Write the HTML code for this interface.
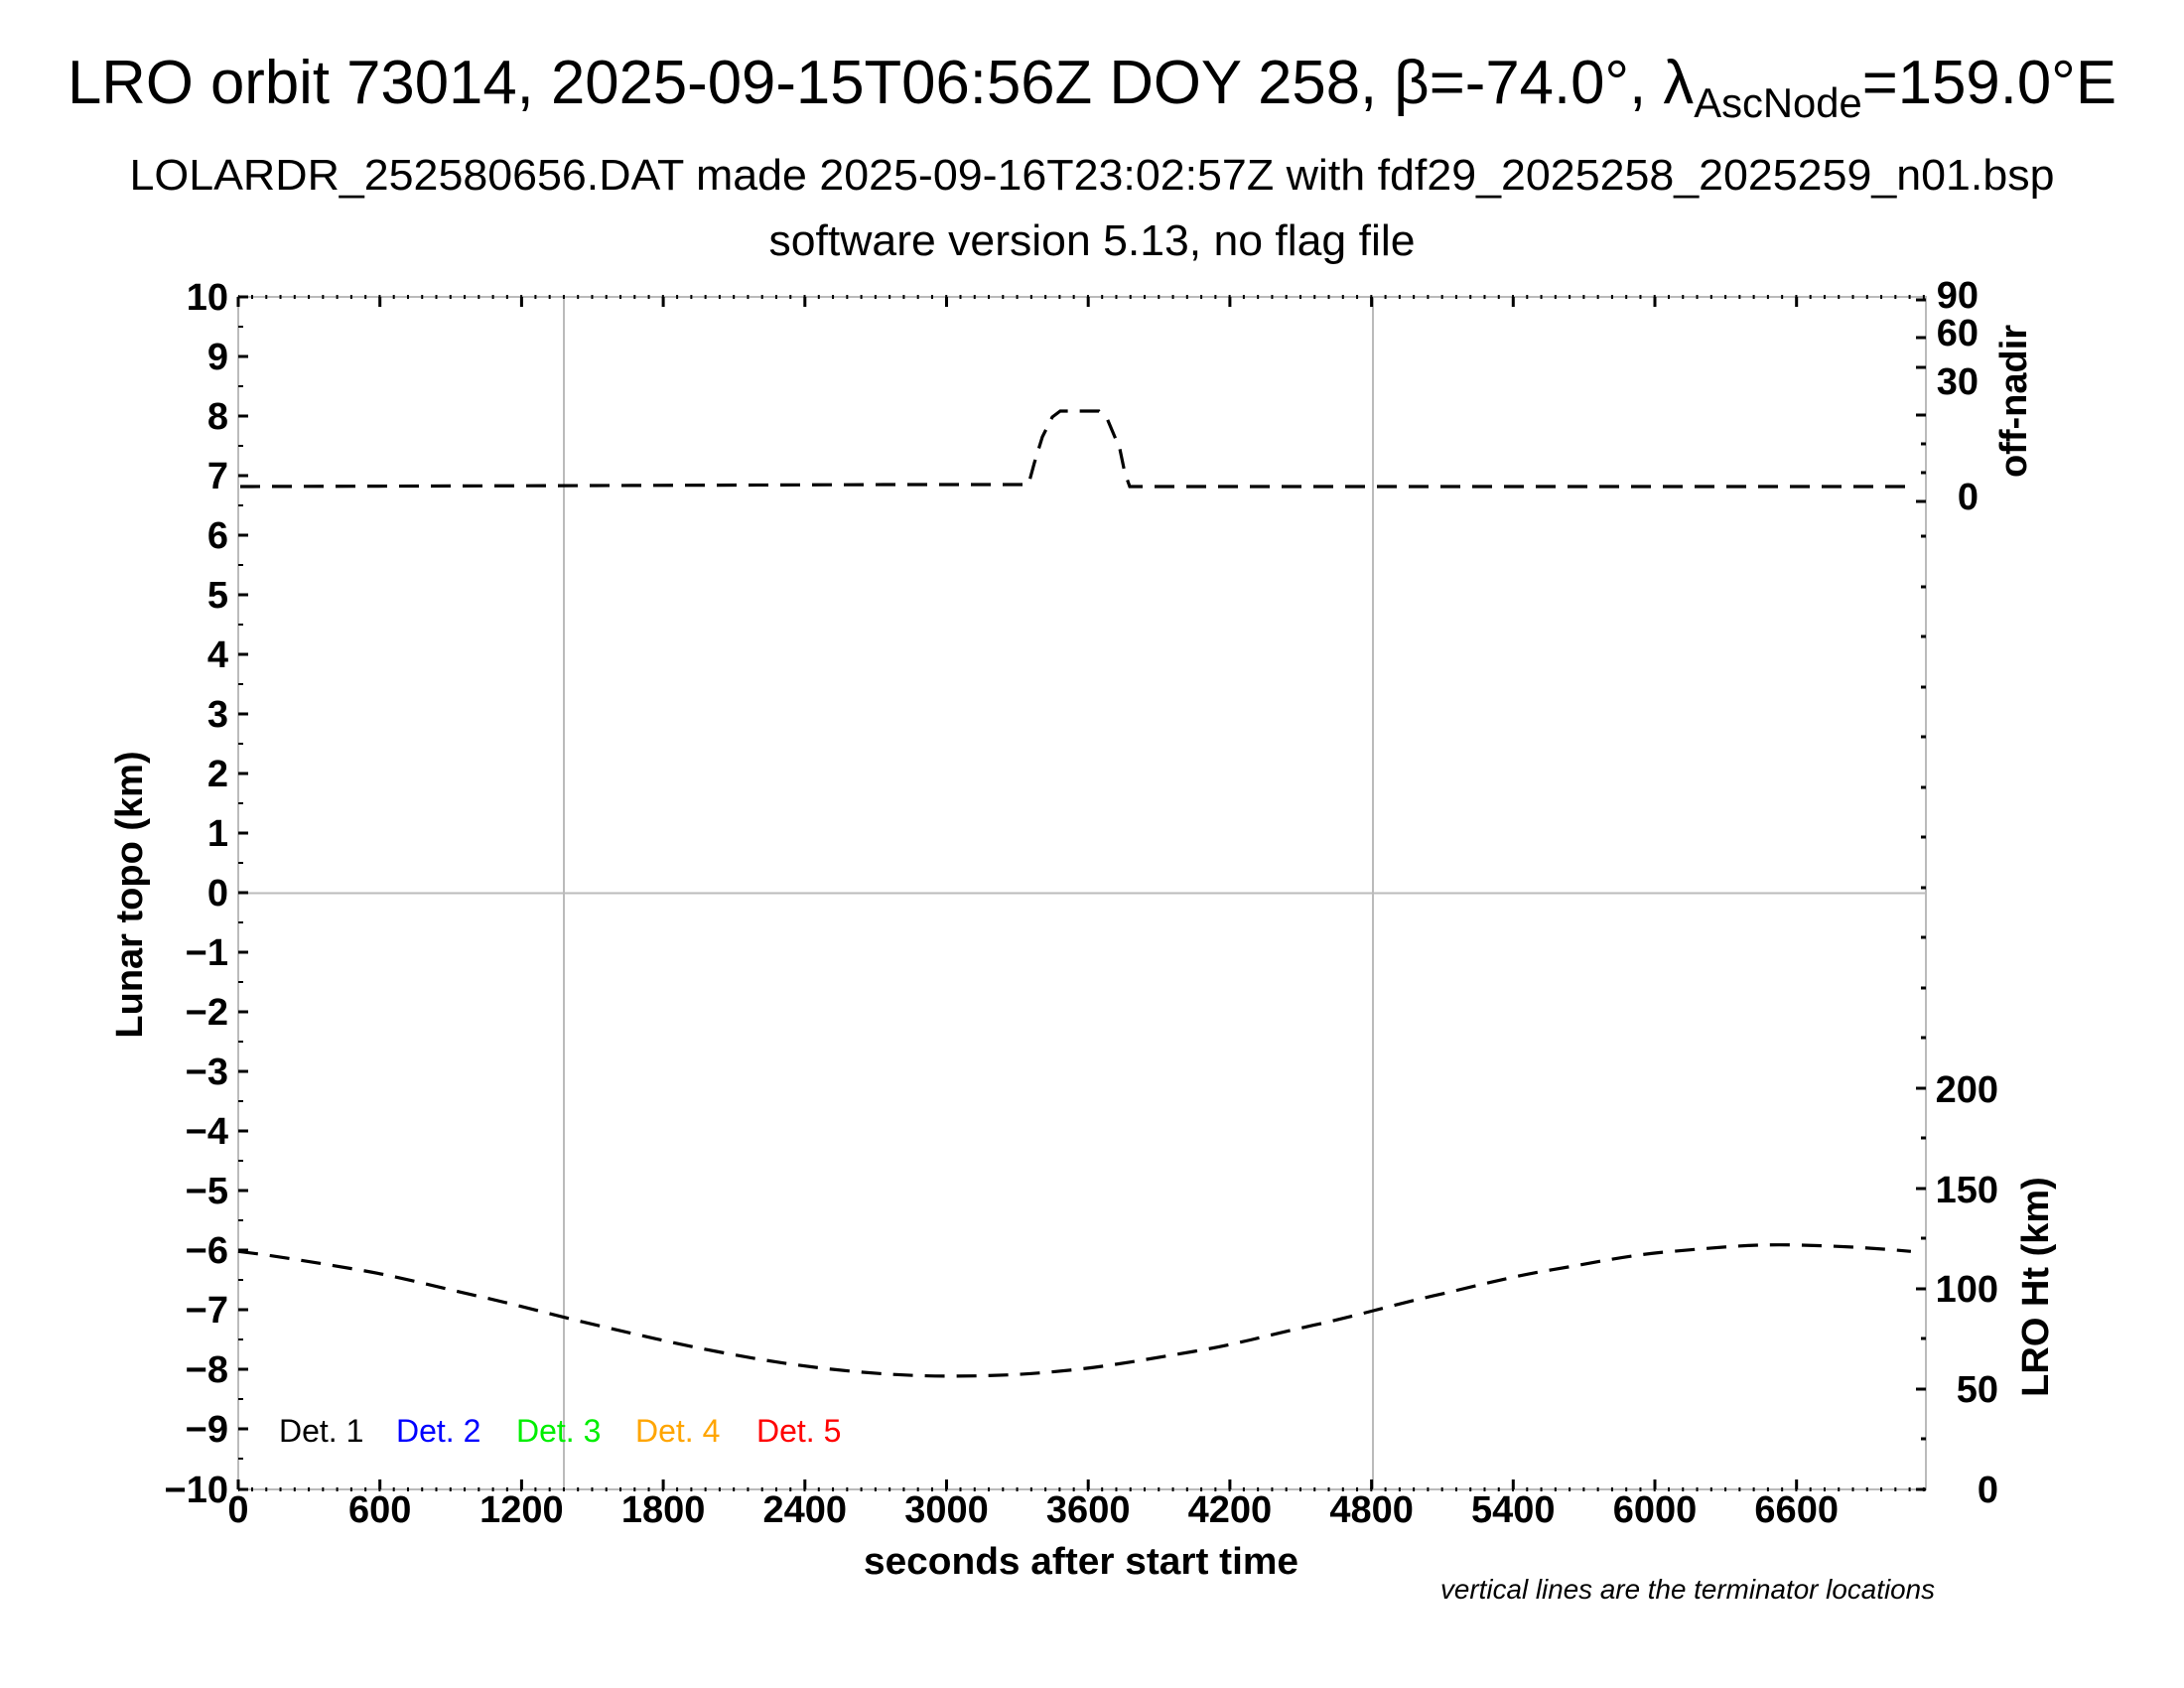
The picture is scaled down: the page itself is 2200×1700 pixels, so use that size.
<!DOCTYPE html>
<html><head><meta charset="utf-8"><style>
body{margin:0;background:#fff}
svg{display:block}
text{font-family:"Liberation Sans",sans-serif}
.t{font-weight:bold;font-size:38px}
</style></head><body>
<svg width="2200" height="1700" viewBox="0 0 2200 1700" xmlns="http://www.w3.org/2000/svg">
<text x="1100" y="104" font-size="62" text-anchor="middle" textLength="2064" lengthAdjust="spacingAndGlyphs">LRO orbit 73014, 2025-09-15T06:56Z DOY 258, β=-74.0°, λ<tspan font-size="42" dy="14">AscNode</tspan><tspan dy="-14">=159.0°E</tspan></text>
<text x="1100" y="191" font-size="44" text-anchor="middle" textLength="1939" lengthAdjust="spacingAndGlyphs">LOLARDR_252580656.DAT made 2025-09-16T23:02:57Z with fdf29_2025258_2025259_n01.bsp</text>
<text x="1100" y="257" font-size="44" text-anchor="middle" textLength="651" lengthAdjust="spacingAndGlyphs">software version 5.13, no flag file</text>
<g stroke="#bbb" stroke-width="2" fill="none">
<rect x="240" y="299" width="1700" height="1201"/>
<line x1="240" y1="899.5" x2="1940" y2="899.5"/>
<line x1="568" y1="299" x2="568" y2="1500"/>
<line x1="1383" y1="299" x2="1383" y2="1500"/>
</g>
<g stroke="#000" stroke-width="3">
<path d="M240 299h10M240 419h10M240 539h10M240 659h10M240 779h10M240 899h10M240 1019h10M240 1139h10M240 1259h10M240 1379h10M240 1500h10M240 359h10M240 479h10M240 599h10M240 719h10M240 839h10M240 959h10M240 1079h10M240 1199h10M240 1319h10M240 1439h10"/>
<path d="M240 329h5M240 389h5M240 449h5M240 509h5M240 569h5M240 629h5M240 689h5M240 749h5M240 809h5M240 869h5M240 929h5M240 989h5M240 1049h5M240 1109h5M240 1169h5M240 1229h5M240 1289h5M240 1349h5M240 1409h5M240 1469h5" stroke-width="2"/>
<path d="M1940 1500h-10M1940 1449h-5M1940 1399h-10M1940 1348h-5M1940 1298h-10M1940 1247h-5M1940 1197h-10M1940 1146h-5M1940 1096h-10M1940 1045h-5M1940 995h-5M1940 944h-5M1940 894h-5M1940 843h-5M1940 793h-5M1940 742h-5M1940 692h-5M1940 641h-5M1940 591h-5M1940 540h-5M1940 505h-10M1940 476h-5M1940 447h-5M1940 418h-10M1940 370h-10M1940 340h-10M1940 302h-10"/>
<path d="M240 1500v-10M382.7 1500v-10M525.4 1500v-10M668.1 1500v-10M810.8 1500v-10M953.5 1500v-10M1096.2 1500v-10M1238.9 1500v-10M1381.6 1500v-10M1524.3 1500v-10M1667 1500v-10M1809.7 1500v-10M240 299v10M382.7 299v10M525.4 299v10M668.1 299v10M810.8 299v10M953.5 299v10M1096.2 299v10M1238.9 299v10M1381.6 299v10M1524.3 299v10M1667 299v10M1809.7 299v10"/>
</g>
<line x1="240" y1="1500" x2="1940" y2="1500" stroke="#000" stroke-width="4" stroke-dasharray="2 12.27" stroke-dashoffset="-13"/>
<line x1="240" y1="299" x2="1940" y2="299" stroke="#000" stroke-width="4" stroke-dasharray="2 12.27" stroke-dashoffset="-13"/>
<g class="t" text-anchor="end">
<text x="230" y="312">10</text><text x="230" y="372">9</text><text x="230" y="432">8</text><text x="230" y="492">7</text><text x="230" y="552">6</text><text x="230" y="612">5</text><text x="230" y="672">4</text><text x="230" y="732">3</text><text x="230" y="792">2</text><text x="230" y="852">1</text><text x="230" y="912">0</text><text x="230" y="972">−1</text><text x="230" y="1032">−2</text><text x="230" y="1092">−3</text><text x="230" y="1152">−4</text><text x="230" y="1212">−5</text><text x="230" y="1272">−6</text><text x="230" y="1332">−7</text><text x="230" y="1392">−8</text><text x="230" y="1452">−9</text><text x="230" y="1513">−10</text>
</g>
<g class="t" text-anchor="middle">
<text x="240" y="1533">0</text><text x="382.7" y="1533">600</text><text x="525.4" y="1533">1200</text><text x="668.1" y="1533">1800</text><text x="810.8" y="1533">2400</text><text x="953.5" y="1533">3000</text><text x="1096.2" y="1533">3600</text><text x="1238.9" y="1533">4200</text><text x="1381.6" y="1533">4800</text><text x="1524.3" y="1533">5400</text><text x="1667" y="1533">6000</text><text x="1809.7" y="1533">6600</text>
</g>
<g class="t" text-anchor="end">
<text x="1993" y="310">90</text><text x="1993" y="348">60</text><text x="1993" y="397">30</text><text x="1993" y="513">0</text>
<text x="2013" y="1110">200</text><text x="2013" y="1211">150</text><text x="2013" y="1311">100</text><text x="2013" y="1412">50</text><text x="2013" y="1513">0</text>
</g>
<text x="1089" y="1585" class="t" text-anchor="middle" textLength="438" lengthAdjust="spacingAndGlyphs">seconds after start time</text>
<text transform="translate(143,901) rotate(-90)" class="t" text-anchor="middle">Lunar topo (km)</text>
<text transform="translate(2041,404) rotate(-90)" class="t" text-anchor="middle">off-nadir</text>
<text transform="translate(2063,1296) rotate(-90)" class="t" text-anchor="middle">LRO Ht (km)</text>
<text x="1949" y="1610" font-size="28" font-style="italic" text-anchor="end" textLength="498" lengthAdjust="spacingAndGlyphs">vertical lines are the terminator locations</text>
<g font-size="32">
<text x="281" y="1452" fill="#000">Det. 1</text><text x="399" y="1452" fill="#0000ff">Det. 2</text><text x="520" y="1452" fill="#00ee00">Det. 3</text><text x="640" y="1452" fill="#ffa500">Det. 4</text><text x="762" y="1452" fill="#ff0000">Det. 5</text>
</g>
<g fill="none" stroke="#000" stroke-width="3.2" stroke-dasharray="20 12">
<polyline points="242,490 600,489 900,488 1036,488 1042,466 1050,440 1060,420 1068,414 1107,414 1115,421 1128,452 1133,476 1138,490 1400,490 1700,490 1925,490"/>
<path d="M240,1260.3 C280,1265 320,1272 360.4,1278.7 S440,1296 480.7,1305.1 S560,1325 601,1334.6 S680,1353 721.4,1361 S800,1375 841.8,1379.4 S920,1386 962.1,1385.9 S1040,1384 1082.5,1379.4 S1160,1368 1202.8,1361 S1280,1344 1323.2,1334.6 S1400,1315 1443.5,1305.1 S1520,1286 1563.9,1278.7 S1640,1264 1684.2,1260.3 S1760,1253 1804.6,1253.8 S1890,1257 1924.9,1260.3"/>
</g>
</svg>
</body></html>
